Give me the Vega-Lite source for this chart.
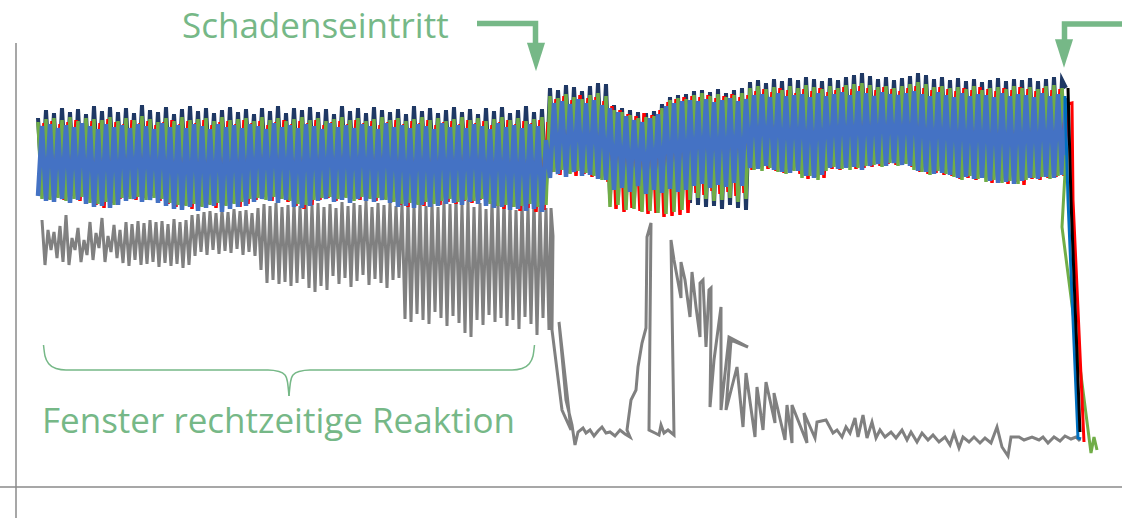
{
"$schema":"https://vega.github.io/schema/vega-lite/v6.json",
"width":1122,"height":518,
"autosize":{"type":"none"},
"padding":0,
"background":"white",
"config":{"view":{"stroke":null}},
"datasets":{
"band":[
{"t":38,"n":118,"g":122,"r":190,"b":196,"u":40},
{"t":42,"n":185,"g":199,"r":123,"b":126,"u":44},
{"t":46,"n":110,"g":119,"r":199,"b":201,"u":48},
{"t":50,"n":182,"g":200,"r":121,"b":124,"u":52},
{"t":54,"n":113,"g":118,"r":197,"b":202,"u":56},
{"t":58,"n":188,"g":198,"r":124,"b":128,"u":60},
{"t":62,"n":108,"g":120,"r":200,"b":199,"u":64},
{"t":66,"n":180,"g":201,"r":122,"b":125,"u":68},
{"t":70,"n":112,"g":117,"r":196,"b":203,"u":72},
{"t":74,"n":186,"g":199,"r":120,"b":127,"u":76},
{"t":78,"n":109,"g":121,"r":201,"b":200,"u":80},
{"t":82,"n":183,"g":197,"r":125,"b":123,"u":84},
{"t":86,"n":114,"g":118,"r":198,"b":204,"u":88},
{"t":90,"n":187,"g":203,"r":121,"b":126,"u":92},
{"t":94,"n":106,"g":119,"r":205,"b":207,"u":96},
{"t":98,"n":181,"g":204,"r":123,"b":129,"u":100},
{"t":102,"n":111,"g":120,"r":208,"b":206,"u":104},
{"t":106,"n":189,"g":202,"r":119,"b":124,"u":108},
{"t":110,"n":107,"g":117,"r":203,"b":208,"u":112},
{"t":114,"n":184,"g":205,"r":122,"b":127,"u":116},
{"t":118,"n":112,"g":121,"r":199,"b":205,"u":120},
{"t":122,"n":179,"g":198,"r":124,"b":125,"u":124},
{"t":126,"n":108,"g":118,"r":197,"b":201,"u":128},
{"t":130,"n":186,"g":199,"r":120,"b":128,"u":132},
{"t":134,"n":113,"g":120,"r":200,"b":199,"u":136},
{"t":138,"n":182,"g":197,"r":123,"b":124,"u":140},
{"t":142,"n":105,"g":116,"r":198,"b":202,"u":144},
{"t":146,"n":188,"g":200,"r":121,"b":126,"u":148},
{"t":150,"n":110,"g":119,"r":196,"b":200,"u":152},
{"t":154,"n":183,"g":198,"r":125,"b":129,"u":156},
{"t":158,"n":112,"g":122,"r":201,"b":203,"u":160},
{"t":162,"n":185,"g":199,"r":122,"b":123,"u":164},
{"t":166,"n":107,"g":118,"r":204,"b":206,"u":168},
{"t":170,"n":190,"g":203,"r":120,"b":127,"u":172},
{"t":174,"n":114,"g":121,"r":207,"b":209,"u":176},
{"t":178,"n":181,"g":205,"r":124,"b":125,"u":180},
{"t":182,"n":109,"g":117,"r":205,"b":210,"u":184},
{"t":186,"n":187,"g":206,"r":121,"b":128,"u":188},
{"t":190,"n":106,"g":120,"r":209,"b":207,"u":192},
{"t":194,"n":184,"g":204,"r":123,"b":124,"u":196},
{"t":198,"n":111,"g":119,"r":206,"b":211,"u":200},
{"t":202,"n":189,"g":207,"r":120,"b":126,"u":204},
{"t":206,"n":108,"g":118,"r":204,"b":208,"u":208},
{"t":210,"n":182,"g":205,"r":125,"b":129,"u":212},
{"t":214,"n":113,"g":121,"r":208,"b":206,"u":216},
{"t":218,"n":186,"g":203,"r":122,"b":124,"u":220},
{"t":222,"n":110,"g":117,"r":205,"b":212,"u":224},
{"t":226,"n":183,"g":206,"r":121,"b":127,"u":228},
{"t":230,"n":107,"g":120,"r":203,"b":209,"u":232},
{"t":234,"n":188,"g":204,"r":124,"b":125,"u":236},
{"t":238,"n":112,"g":119,"r":207,"b":207,"u":240},
{"t":242,"n":185,"g":202,"r":120,"b":128,"u":244},
{"t":246,"n":109,"g":118,"r":204,"b":206,"u":248},
{"t":250,"n":180,"g":199,"r":123,"b":124,"u":252},
{"t":254,"n":114,"g":121,"r":200,"b":202,"u":256},
{"t":258,"n":187,"g":198,"r":121,"b":126,"u":260},
{"t":262,"n":108,"g":117,"r":197,"b":199,"u":264},
{"t":266,"n":183,"g":200,"r":125,"b":129,"u":268},
{"t":270,"n":111,"g":120,"r":201,"b":201,"u":272},
{"t":274,"n":186,"g":197,"r":122,"b":123,"u":276},
{"t":278,"n":106,"g":118,"r":199,"b":203,"u":280},
{"t":282,"n":189,"g":199,"r":120,"b":127,"u":284},
{"t":286,"n":113,"g":121,"r":202,"b":200,"u":288},
{"t":290,"n":181,"g":201,"r":124,"b":125,"u":292},
{"t":294,"n":108,"g":119,"r":206,"b":207,"u":296},
{"t":298,"n":184,"g":204,"r":121,"b":128,"u":300},
{"t":302,"n":110,"g":117,"r":209,"b":208,"u":304},
{"t":306,"n":188,"g":205,"r":123,"b":124,"u":308},
{"t":310,"n":107,"g":120,"r":205,"b":206,"u":312},
{"t":314,"n":182,"g":200,"r":120,"b":126,"u":316},
{"t":318,"n":112,"g":118,"r":200,"b":201,"u":320},
{"t":322,"n":186,"g":198,"r":125,"b":129,"u":324},
{"t":326,"n":109,"g":121,"r":198,"b":199,"u":328},
{"t":330,"n":183,"g":197,"r":122,"b":123,"u":332},
{"t":334,"n":114,"g":119,"r":201,"b":202,"u":336},
{"t":338,"n":187,"g":199,"r":121,"b":127,"u":340},
{"t":342,"n":106,"g":117,"r":197,"b":200,"u":344},
{"t":346,"n":180,"g":198,"r":124,"b":125,"u":348},
{"t":350,"n":111,"g":120,"r":199,"b":203,"u":352},
{"t":354,"n":185,"g":201,"r":120,"b":128,"u":356},
{"t":358,"n":108,"g":118,"r":200,"b":199,"u":360},
{"t":362,"n":188,"g":197,"r":123,"b":124,"u":364},
{"t":366,"n":113,"g":121,"r":198,"b":201,"u":368},
{"t":370,"n":182,"g":199,"r":121,"b":126,"u":372},
{"t":374,"n":107,"g":119,"r":201,"b":202,"u":376},
{"t":378,"n":186,"g":198,"r":125,"b":129,"u":380},
{"t":382,"n":110,"g":117,"r":199,"b":200,"u":384},
{"t":386,"n":184,"g":200,"r":122,"b":123,"u":388},
{"t":390,"n":112,"g":120,"r":202,"b":203,"u":392},
{"t":394,"n":189,"g":202,"r":120,"b":127,"u":396},
{"t":398,"n":109,"g":118,"r":205,"b":207,"u":400},
{"t":402,"n":181,"g":204,"r":124,"b":125,"u":404},
{"t":406,"n":114,"g":121,"r":207,"b":206,"u":408},
{"t":410,"n":187,"g":203,"r":121,"b":128,"u":412},
{"t":414,"n":106,"g":119,"r":204,"b":208,"u":416},
{"t":418,"n":183,"g":205,"r":123,"b":124,"u":420},
{"t":422,"n":111,"g":117,"r":206,"b":205,"u":424},
{"t":426,"n":186,"g":202,"r":120,"b":126,"u":428},
{"t":430,"n":108,"g":120,"r":203,"b":207,"u":432},
{"t":434,"n":182,"g":204,"r":125,"b":129,"u":436},
{"t":438,"n":113,"g":118,"r":205,"b":206,"u":440},
{"t":442,"n":188,"g":201,"r":122,"b":123,"u":444},
{"t":446,"n":110,"g":121,"r":202,"b":204,"u":448},
{"t":450,"n":184,"g":199,"r":121,"b":127,"u":452},
{"t":454,"n":107,"g":119,"r":204,"b":203,"u":456},
{"t":458,"n":187,"g":202,"r":124,"b":125,"u":460},
{"t":462,"n":112,"g":117,"r":201,"b":205,"u":464},
{"t":466,"n":181,"g":200,"r":120,"b":128,"u":468},
{"t":470,"n":109,"g":120,"r":203,"b":202,"u":472},
{"t":474,"n":185,"g":201,"r":123,"b":124,"u":476},
{"t":478,"n":114,"g":118,"r":200,"b":204,"u":480},
{"t":482,"n":183,"g":199,"r":121,"b":126,"u":484},
{"t":486,"n":108,"g":121,"r":202,"b":206,"u":488},
{"t":490,"n":186,"g":204,"r":125,"b":129,"u":492},
{"t":494,"n":111,"g":119,"r":206,"b":208,"u":496},
{"t":498,"n":189,"g":206,"r":122,"b":123,"u":500},
{"t":502,"n":107,"g":117,"r":209,"b":207,"u":504},
{"t":506,"n":182,"g":205,"r":120,"b":127,"u":508},
{"t":510,"n":113,"g":120,"r":207,"b":210,"u":512},
{"t":514,"n":187,"g":207,"r":124,"b":125,"u":516},
{"t":518,"n":110,"g":118,"r":211,"b":209,"u":520},
{"t":522,"n":184,"g":206,"r":121,"b":128,"u":524},
{"t":526,"n":106,"g":121,"r":208,"b":211,"u":528},
{"t":530,"n":188,"g":204,"r":123,"b":124,"u":532},
{"t":534,"n":112,"g":119,"r":212,"b":209,"u":536},
{"t":538,"n":183,"g":207,"r":120,"b":126,"u":540},
{"t":542,"n":109,"g":117,"r":210,"b":212,"u":544},
{"t":546,"n":186,"g":205,"r":122,"b":140,"u":548},
{"t":550,"n":88,"g":96,"r":172,"b":178,"u":552},
{"t":554,"n":165,"g":172,"r":99,"b":103,"u":556},
{"t":558,"n":90,"g":98,"r":175,"b":174,"u":560},
{"t":562,"n":162,"g":170,"r":96,"b":101,"u":564},
{"t":566,"n":85,"g":94,"r":173,"b":177,"u":568},
{"t":570,"n":168,"g":174,"r":100,"b":104,"u":572},
{"t":574,"n":87,"g":97,"r":176,"b":172,"u":576},
{"t":578,"n":164,"g":171,"r":95,"b":99,"u":580},
{"t":582,"n":91,"g":99,"r":174,"b":176,"u":584},
{"t":586,"n":160,"g":173,"r":98,"b":103,"u":588},
{"t":590,"n":86,"g":95,"r":177,"b":175,"u":592},
{"t":594,"n":166,"g":176,"r":97,"b":100,"u":596},
{"t":598,"n":83,"g":93,"r":178,"b":179,"u":600},
{"t":602,"n":163,"g":180,"r":101,"b":105,"u":604},
{"t":606,"n":84,"g":96,"r":182,"b":180,"u":608},
{"t":610,"n":195,"g":207,"r":106,"b":108,"u":612},
{"t":614,"n":105,"g":110,"r":209,"b":190,"u":616},
{"t":618,"n":198,"g":205,"r":110,"b":112,"u":620},
{"t":622,"n":108,"g":112,"r":212,"b":188,"u":624},
{"t":626,"n":196,"g":210,"r":114,"b":116,"u":628},
{"t":630,"n":110,"g":115,"r":208,"b":192,"u":632},
{"t":634,"n":199,"g":209,"r":116,"b":120,"u":636},
{"t":638,"n":112,"g":118,"r":211,"b":186,"u":640},
{"t":642,"n":197,"g":212,"r":113,"b":122,"u":644},
{"t":646,"n":113,"g":117,"r":214,"b":194,"u":648},
{"t":650,"n":200,"g":211,"r":115,"b":118,"u":652},
{"t":654,"n":111,"g":116,"r":213,"b":190,"u":656},
{"t":658,"n":198,"g":213,"r":110,"b":114,"u":660},
{"t":662,"n":104,"g":108,"r":217,"b":193,"u":664},
{"t":666,"n":196,"g":214,"r":102,"b":106,"u":668},
{"t":670,"n":97,"g":100,"r":216,"b":189,"u":672},
{"t":674,"n":199,"g":212,"r":99,"b":103,"u":676},
{"t":678,"n":95,"g":98,"r":215,"b":192,"u":680},
{"t":682,"n":201,"g":210,"r":97,"b":101,"u":684},
{"t":686,"n":94,"g":99,"r":213,"b":190,"u":688},
{"t":690,"n":203,"g":200,"r":96,"b":100,"u":692},
{"t":694,"n":91,"g":95,"r":193,"b":186,"u":696},
{"t":698,"n":205,"g":198,"r":97,"b":101,"u":700},
{"t":702,"n":90,"g":93,"r":195,"b":184,"u":704},
{"t":706,"n":207,"g":199,"r":95,"b":99,"u":708},
{"t":710,"n":92,"g":96,"r":191,"b":188,"u":712},
{"t":714,"n":206,"g":201,"r":98,"b":102,"u":716},
{"t":718,"n":89,"g":94,"r":194,"b":185,"u":720},
{"t":722,"n":209,"g":200,"r":96,"b":100,"u":724},
{"t":726,"n":93,"g":97,"r":192,"b":187,"u":728},
{"t":730,"n":205,"g":198,"r":94,"b":98,"u":732},
{"t":734,"n":90,"g":95,"r":196,"b":183,"u":736},
{"t":738,"n":208,"g":202,"r":97,"b":101,"u":740},
{"t":742,"n":88,"g":93,"r":193,"b":186,"u":744},
{"t":746,"n":210,"g":199,"r":95,"b":99,"u":748},
{"t":750,"n":82,"g":88,"r":170,"b":168,"u":752},
{"t":754,"n":158,"g":170,"r":91,"b":95,"u":756},
{"t":758,"n":80,"g":86,"r":167,"b":169,"u":760},
{"t":762,"n":156,"g":171,"r":89,"b":94,"u":764},
{"t":766,"n":83,"g":89,"r":169,"b":166,"u":768},
{"t":770,"n":159,"g":168,"r":92,"b":97,"u":772},
{"t":774,"n":79,"g":87,"r":171,"b":170,"u":776},
{"t":778,"n":157,"g":172,"r":88,"b":93,"u":780},
{"t":782,"n":81,"g":90,"r":173,"b":172,"u":784},
{"t":786,"n":160,"g":174,"r":90,"b":96,"u":788},
{"t":790,"n":78,"g":86,"r":170,"b":173,"u":792},
{"t":794,"n":161,"g":171,"r":93,"b":95,"u":796},
{"t":798,"n":80,"g":88,"r":174,"b":171,"u":800},
{"t":802,"n":165,"g":178,"r":89,"b":94,"u":804},
{"t":806,"n":77,"g":85,"r":179,"b":176,"u":808},
{"t":810,"n":163,"g":176,"r":91,"b":97,"u":812},
{"t":814,"n":79,"g":87,"r":177,"b":178,"u":816},
{"t":818,"n":166,"g":180,"r":88,"b":93,"u":820},
{"t":822,"n":81,"g":89,"r":178,"b":175,"u":824},
{"t":826,"n":158,"g":171,"r":92,"b":96,"u":828},
{"t":830,"n":78,"g":86,"r":169,"b":168,"u":832},
{"t":834,"n":156,"g":167,"r":90,"b":94,"u":836},
{"t":838,"n":80,"g":88,"r":170,"b":169,"u":840},
{"t":842,"n":157,"g":169,"r":87,"b":92,"u":844},
{"t":846,"n":77,"g":85,"r":167,"b":168,"u":848},
{"t":850,"n":155,"g":170,"r":89,"b":95,"u":852},
{"t":854,"n":75,"g":84,"r":169,"b":167,"u":856},
{"t":858,"n":158,"g":168,"r":86,"b":91,"u":860},
{"t":862,"n":73,"g":83,"r":168,"b":170,"u":864},
{"t":866,"n":156,"g":166,"r":88,"b":93,"u":868},
{"t":870,"n":76,"g":85,"r":167,"b":166,"u":872},
{"t":874,"n":154,"g":165,"r":90,"b":96,"u":876},
{"t":878,"n":79,"g":87,"r":166,"b":164,"u":880},
{"t":882,"n":153,"g":167,"r":87,"b":92,"u":884},
{"t":886,"n":77,"g":86,"r":164,"b":166,"u":888},
{"t":890,"n":155,"g":163,"r":89,"b":94,"u":892},
{"t":894,"n":80,"g":88,"r":165,"b":163,"u":896},
{"t":898,"n":152,"g":166,"r":91,"b":95,"u":900},
{"t":902,"n":78,"g":86,"r":163,"b":165,"u":904},
{"t":906,"n":154,"g":164,"r":88,"b":93,"u":908},
{"t":910,"n":76,"g":84,"r":167,"b":166,"u":912},
{"t":914,"n":158,"g":170,"r":86,"b":91,"u":916},
{"t":918,"n":73,"g":82,"r":172,"b":171,"u":920},
{"t":922,"n":160,"g":172,"r":88,"b":94,"u":924},
{"t":926,"n":75,"g":84,"r":174,"b":172,"u":928},
{"t":930,"n":159,"g":175,"r":90,"b":96,"u":932},
{"t":934,"n":79,"g":87,"r":173,"b":174,"u":936},
{"t":938,"n":161,"g":171,"r":87,"b":92,"u":940},
{"t":942,"n":77,"g":86,"r":175,"b":173,"u":944},
{"t":946,"n":162,"g":174,"r":89,"b":95,"u":948},
{"t":950,"n":80,"g":88,"r":176,"b":175,"u":952},
{"t":954,"n":165,"g":177,"r":91,"b":97,"u":956},
{"t":958,"n":78,"g":87,"r":179,"b":178,"u":960},
{"t":962,"n":166,"g":180,"r":88,"b":93,"u":964},
{"t":966,"n":81,"g":89,"r":178,"b":177,"u":968},
{"t":970,"n":164,"g":176,"r":90,"b":96,"u":972},
{"t":974,"n":79,"g":86,"r":180,"b":179,"u":976},
{"t":978,"n":167,"g":179,"r":87,"b":94,"u":980},
{"t":982,"n":82,"g":90,"r":177,"b":178,"u":984},
{"t":986,"n":169,"g":182,"r":89,"b":95,"u":988},
{"t":990,"n":80,"g":88,"r":183,"b":181,"u":992},
{"t":994,"n":170,"g":180,"r":91,"b":97,"u":996},
{"t":998,"n":78,"g":87,"r":181,"b":183,"u":1000},
{"t":1002,"n":168,"g":183,"r":88,"b":93,"u":1004},
{"t":1006,"n":81,"g":89,"r":184,"b":182,"u":1008},
{"t":1010,"n":171,"g":181,"r":90,"b":96,"u":1012},
{"t":1014,"n":79,"g":86,"r":182,"b":184,"u":1016},
{"t":1018,"n":169,"g":184,"r":87,"b":94,"u":1020},
{"t":1022,"n":80,"g":88,"r":185,"b":181,"u":1024},
{"t":1026,"n":167,"g":180,"r":89,"b":95,"u":1028},
{"t":1030,"n":78,"g":87,"r":179,"b":178,"u":1032},
{"t":1034,"n":166,"g":178,"r":91,"b":97,"u":1036},
{"t":1038,"n":81,"g":89,"r":180,"b":179,"u":1040},
{"t":1042,"n":165,"g":177,"r":88,"b":93,"u":1044},
{"t":1046,"n":79,"g":86,"r":178,"b":177,"u":1048},
{"t":1050,"n":167,"g":179,"r":90,"b":96,"u":1052},
{"t":1054,"n":77,"g":85,"r":177,"b":178,"u":1056},
{"t":1058,"n":164,"g":176,"r":89,"b":94,"u":1060},
{"t":1062,"n":80,"g":88,"r":176,"b":175,"u":1064},
{"t":1066,"n":88,"g":155,"r":104,"b":98,"u":1068}
],
"gray":[
{"t":42,"v":220},{"t":45,"v":265},{"t":48,"v":230},{"t":51,"v":250},{"t":54,"v":232},{"t":57,"v":258},{"t":60,"v":226},{"t":63,"v":262},{"t":66,"v":215},{"t":69,"v":265},
{"t":72,"v":238},{"t":75,"v":250},{"t":78,"v":228},{"t":81,"v":262},{"t":84,"v":240},{"t":87,"v":255},{"t":90,"v":222},{"t":93,"v":260},{"t":96,"v":233},{"t":99,"v":248},
{"t":102,"v":218},{"t":105,"v":262},{"t":108,"v":236},{"t":111,"v":252},{"t":114,"v":225},{"t":117,"v":258},{"t":120,"v":230},{"t":123,"v":263},{"t":126,"v":222},{"t":129,"v":266},
{"t":132,"v":224},{"t":135,"v":260},{"t":138,"v":221},{"t":141,"v":265},{"t":144,"v":223},{"t":147,"v":264},{"t":150,"v":220},{"t":153,"v":262},{"t":156,"v":222},{"t":159,"v":267},
{"t":162,"v":221},{"t":165,"v":263},{"t":168,"v":224},{"t":171,"v":266},{"t":174,"v":219},{"t":177,"v":264},{"t":180,"v":222},{"t":183,"v":268},{"t":186,"v":220},{"t":189,"v":265},
{"t":192,"v":215},{"t":195,"v":256},{"t":198,"v":214},{"t":201,"v":252},{"t":204,"v":212},{"t":207,"v":255},{"t":210,"v":211},{"t":213,"v":250},{"t":216,"v":213},{"t":219,"v":254},
{"t":222,"v":210},{"t":225,"v":251},{"t":228,"v":212},{"t":231,"v":253},{"t":234,"v":209},{"t":237,"v":249},{"t":240,"v":211},{"t":243,"v":255},{"t":246,"v":210},{"t":249,"v":252},
{"t":252,"v":213},{"t":255,"v":256},{"t":258,"v":208},{"t":261,"v":270},{"t":264,"v":204},{"t":267,"v":283},{"t":270,"v":206},{"t":273,"v":280},{"t":276,"v":203},{"t":279,"v":284},
{"t":282,"v":207},{"t":285,"v":282},{"t":288,"v":205},{"t":291,"v":286},{"t":294,"v":203},{"t":297,"v":283},{"t":300,"v":206},{"t":303,"v":279},{"t":306,"v":202},{"t":309,"v":288},
{"t":312,"v":205},{"t":315,"v":292},{"t":318,"v":203},{"t":321,"v":286},{"t":324,"v":207},{"t":327,"v":290},{"t":330,"v":204},{"t":333,"v":276},{"t":336,"v":208},{"t":339,"v":284},
{"t":342,"v":202},{"t":345,"v":278},{"t":348,"v":206},{"t":351,"v":287},{"t":354,"v":203},{"t":357,"v":281},{"t":360,"v":205},{"t":363,"v":275},{"t":366,"v":201},{"t":369,"v":285},
{"t":372,"v":207},{"t":375,"v":279},{"t":378,"v":203},{"t":381,"v":283},{"t":384,"v":205},{"t":387,"v":288},{"t":390,"v":202},{"t":393,"v":280},{"t":396,"v":206},{"t":399,"v":278},
{"t":402,"v":204},{"t":405,"v":319},{"t":408,"v":200},{"t":411,"v":322},{"t":414,"v":205},{"t":417,"v":314},{"t":420,"v":199},{"t":423,"v":320},{"t":426,"v":206},{"t":429,"v":324},
{"t":432,"v":202},{"t":435,"v":312},{"t":438,"v":207},{"t":441,"v":318},{"t":444,"v":201},{"t":447,"v":326},{"t":450,"v":204},{"t":453,"v":316},{"t":456,"v":198},{"t":459,"v":323},
{"t":462,"v":205},{"t":465,"v":333},{"t":468,"v":200},{"t":471,"v":337},{"t":474,"v":207},{"t":477,"v":320},{"t":480,"v":203},{"t":483,"v":325},{"t":486,"v":209},{"t":489,"v":315},
{"t":492,"v":201},{"t":495,"v":322},{"t":498,"v":205},{"t":501,"v":318},{"t":504,"v":199},{"t":507,"v":326},{"t":510,"v":204},{"t":513,"v":320},{"t":516,"v":210},{"t":519,"v":329},
{"t":522,"v":202},{"t":525,"v":317},{"t":528,"v":206},{"t":531,"v":324},{"t":534,"v":200},{"t":537,"v":335},{"t":540,"v":205},{"t":543,"v":318},{"t":546,"v":208},{"t":549,"v":330},
{"t":551,"v":208},{"t":553,"v":236},{"t":552,"v":330},{"t":562,"v":410},{"t":571,"v":430},{"t":559,"v":322},{"t":566,"v":400},{"t":572,"v":425},{"t":575,"v":445},{"t":578,"v":432},
{"t":583,"v":428},{"t":586,"v":433},{"t":590,"v":430},{"t":594,"v":436},{"t":598,"v":431},{"t":602,"v":427},{"t":606,"v":433},{"t":610,"v":432},{"t":615,"v":436},{"t":620,"v":430},
{"t":625,"v":434},{"t":630,"v":437},{"t":627,"v":430},{"t":631,"v":400},{"t":636,"v":390},{"t":638,"v":367},{"t":642,"v":343},{"t":646,"v":328},{"t":647,"v":237},{"t":651,"v":223},
{"t":649,"v":430},{"t":655,"v":433},{"t":659,"v":435},{"t":661,"v":425},{"t":664,"v":433},{"t":668,"v":430},{"t":674,"v":435},{"t":671,"v":240},{"t":674,"v":260},{"t":681,"v":298},
{"t":681,"v":262},{"t":685,"v":280},{"t":690,"v":317},{"t":692,"v":272},{"t":696,"v":307},{"t":700,"v":337},{"t":700,"v":283},{"t":703,"v":280},{"t":706,"v":347},{"t":709,"v":290},
{"t":711,"v":288},{"t":711,"v":327},{"t":710,"v":407},{"t":714,"v":360},{"t":721,"v":307},{"t":721,"v":410},{"t":729,"v":337},{"t":748,"v":347},{"t":731,"v":340},{"t":726,"v":410},
{"t":737,"v":367},{"t":743,"v":427},{"t":746,"v":373},{"t":755,"v":437},{"t":757,"v":387},{"t":763,"v":430},{"t":766,"v":382},{"t":775,"v":423},{"t":774,"v":393},{"t":785,"v":440},
{"t":787,"v":405},{"t":792,"v":443},{"t":792,"v":405},{"t":807,"v":443},{"t":804,"v":413},{"t":815,"v":438},{"t":817,"v":422},{"t":826,"v":420},{"t":833,"v":433},{"t":837,"v":430},
{"t":842,"v":437},{"t":846,"v":427},{"t":850,"v":433},{"t":855,"v":418},{"t":858,"v":437},{"t":863,"v":415},{"t":867,"v":438},{"t":872,"v":422},{"t":876,"v":438},{"t":880,"v":430},
{"t":885,"v":437},{"t":891,"v":432},{"t":896,"v":438},{"t":902,"v":430},{"t":907,"v":440},{"t":911,"v":432},{"t":917,"v":442},{"t":922,"v":433},{"t":928,"v":440},{"t":933,"v":435},
{"t":939,"v":442},{"t":945,"v":437},{"t":950,"v":445},{"t":954,"v":433},{"t":959,"v":448},{"t":963,"v":437},{"t":969,"v":442},{"t":974,"v":437},{"t":980,"v":443},{"t":985,"v":438},
{"t":991,"v":443},{"t":997,"v":427},{"t":1002,"v":447},{"t":1008,"v":456},{"t":1011,"v":437},{"t":1019,"v":437},{"t":1024,"v":440},{"t":1032,"v":437},{"t":1039,"v":440},{"t":1043,"v":437},
{"t":1048,"v":443},{"t":1054,"v":437},{"t":1060,"v":441},{"t":1065,"v":436},{"t":1071,"v":439},{"t":1076,"v":437},{"t":1080,"v":441}
],
"tail":[
{"s":"g","t":1066,"v":155},{"s":"g","t":1062,"v":227},{"s":"g","t":1091,"v":453},{"s":"g","t":1094,"v":437},{"s":"g","t":1097,"v":450},
{"s":"c","t":1065,"v":96},{"s":"c","t":1068,"v":200},{"s":"c","t":1078,"v":438},{"s":"c","t":1081,"v":439},
{"s":"r","t":1068,"v":104},{"s":"r","t":1072,"v":103},{"s":"r","t":1073,"v":200},{"s":"r","t":1084,"v":442},
{"s":"k","t":1068,"v":88},{"s":"k","t":1071,"v":200},{"s":"k","t":1080,"v":432}
]
},
"layer":[
{"data":{"values":[{"x":16,"y":43,"y2":518}]},
 "mark":{"type":"rule","color":"#8a8a8a","strokeWidth":1.5},
 "encoding":{"x":{"field":"x","type":"quantitative","axis":null,"scale":{"domain":[0,1122],"nice":false,"zero":false}},
  "y":{"field":"y","type":"quantitative","axis":null,"scale":{"domain":[0,518],"reverse":true,"nice":false,"zero":false}},"y2":{"field":"y2"}}},
{"data":{"values":[{"x":0,"x2":1122,"y":487}]},
 "mark":{"type":"rule","color":"#8a8a8a","strokeWidth":1.5},
 "encoding":{"x":{"field":"x","type":"quantitative"},"x2":{"field":"x2"},"y":{"field":"y","type":"quantitative"}}},
{"data":{"name":"gray"},"mark":{"type":"line","color":"#808080","strokeWidth":3},
 "encoding":{"x":{"field":"t","type":"quantitative"},"y":{"field":"v","type":"quantitative"},"order":{"value":null}}},
{"data":{"name":"band"},"mark":{"type":"line","color":"#1f3864","strokeWidth":4},
 "encoding":{"x":{"field":"t","type":"quantitative"},"y":{"field":"n","type":"quantitative"}}},
{"data":{"name":"band"},"mark":{"type":"line","color":"#ff0000","strokeWidth":3.5},
 "encoding":{"x":{"field":"u","type":"quantitative"},"y":{"field":"r","type":"quantitative"}}},
{"data":{"name":"band"},"mark":{"type":"line","color":"#70ad47","strokeWidth":3.5},
 "encoding":{"x":{"field":"t","type":"quantitative"},"y":{"field":"g","type":"quantitative"}}},
{"data":{"name":"band"},"mark":{"type":"line","color":"#4472c4","strokeWidth":4.5},
 "encoding":{"x":{"field":"t","type":"quantitative"},"y":{"field":"b","type":"quantitative"}}},
{"data":{"name":"tail"},"mark":{"type":"line","strokeWidth":3},
 "encoding":{"x":{"field":"t","type":"quantitative"},"y":{"field":"v","type":"quantitative"},"order":{"value":null},
  "color":{"field":"s","type":"nominal","legend":null,"scale":{"domain":["g","c","r","k"],"range":["#70ad47","#0070c0","#ff0000","#000000"]}}}},
{"data":{"values":[
 {"p":"a","x":43.5,"y":345},{"p":"a","x":45,"y":356},{"p":"a","x":49,"y":364},{"p":"a","x":56,"y":368.5},{"p":"a","x":66,"y":370},{"p":"a","x":268,"y":370},{"p":"a","x":279,"y":371.5},{"p":"a","x":285,"y":375},{"p":"a","x":287.5,"y":382},{"p":"a","x":289,"y":396},
 {"p":"b","x":289,"y":396},{"p":"b","x":290.5,"y":382},{"p":"b","x":293,"y":375},{"p":"b","x":299,"y":371.5},{"p":"b","x":310,"y":370},{"p":"b","x":512,"y":370},{"p":"b","x":522,"y":368.5},{"p":"b","x":529,"y":364},{"p":"b","x":533,"y":356},{"p":"b","x":534.5,"y":345}]},
 "mark":{"type":"line","color":"#76b887","strokeWidth":1.5,"interpolate":"monotone"},
 "encoding":{"x":{"field":"x","type":"quantitative"},"y":{"field":"y","type":"quantitative"},"detail":{"field":"p"}}},
{"data":{"values":[
 {"p":"a","x":477,"y":23.5},{"p":"a","x":535.5,"y":23.5},{"p":"a","x":535.5,"y":45},
 {"p":"b","x":1122,"y":24},{"p":"b","x":1064.5,"y":24},{"p":"b","x":1064.5,"y":41}]},
 "mark":{"type":"line","color":"#76b887","strokeWidth":5.5,"strokeJoin":"miter"},
 "encoding":{"x":{"field":"x","type":"quantitative"},"y":{"field":"y","type":"quantitative"},"detail":{"field":"p"},"order":{"value":null}}},
{"data":{"values":[{"x":536,"y":57},{"x":1064,"y":53.5}]},
 "mark":{"type":"point","filled":true,"opacity":1,"color":"#76b887","shape":"M-0.64,-1L0.64,-1L0,1Z","size":800,"strokeWidth":0},
 "encoding":{"x":{"field":"x","type":"quantitative"},"y":{"field":"y","type":"quantitative"}}},
{"data":{"values":[{"x":182,"y":38,"label":"Schadenseintritt"},{"x":42,"y":433,"label":"Fenster rechtzeitige Reaktion"}]},
 "mark":{"type":"text","align":"left","baseline":"alphabetic","font":"Open Sans","fontSize":35,"color":"#76b887"},
 "encoding":{"x":{"field":"x","type":"quantitative"},"y":{"field":"y","type":"quantitative"},"text":{"field":"label"}}}
]
}
